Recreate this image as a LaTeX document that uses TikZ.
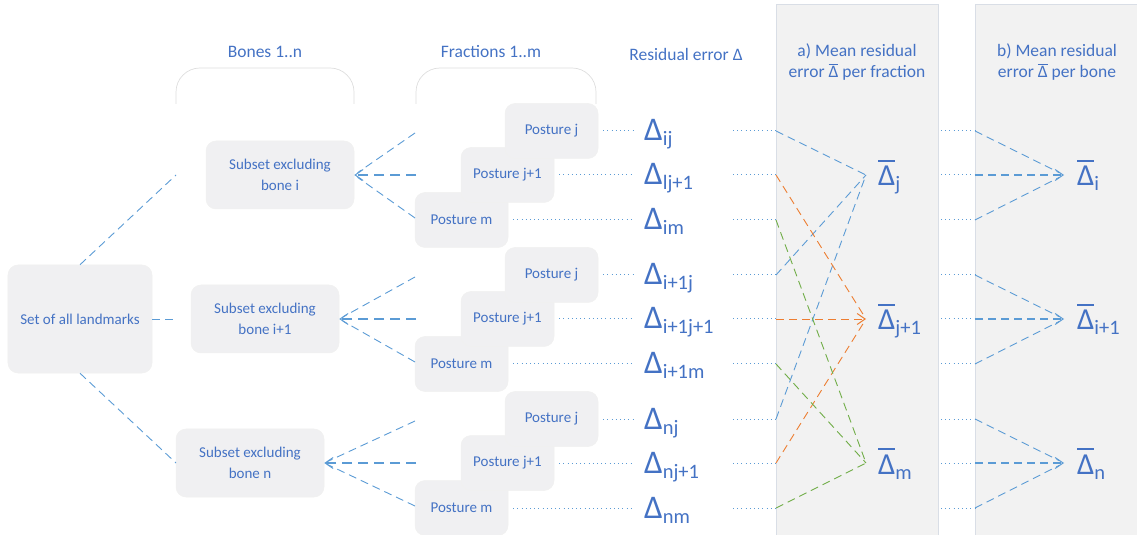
\documentclass[tikz,border=0pt]{standalone}
\usepackage{fontspec}
\setmainfont{Carlito}
\usetikzlibrary{arrows.meta}

\definecolor{txtblue}{HTML}{4472C4}
\definecolor{lnblue}{HTML}{5B9BD5}
\definecolor{lnorange}{HTML}{ED7D31}
\definecolor{lngreen}{HTML}{70AD47}
\definecolor{boxgray}{HTML}{F0F0F2}
\definecolor{panelgray}{HTML}{F2F2F2}
\definecolor{paneledge}{HTML}{D9DEE6}
\definecolor{bracegray}{HTML}{DEDEDE}

% a symbol with a bar drawn over it: #1 content, #2 gap, #3 bar thickness
\newcommand\barred[3]{\setbox0\hbox{#1}\hbox{\rlap{\raisebox{\dimexpr\ht0+#2\relax}{\rule{\wd0}{#3}}}\box0}}
% residual error with subscript
\newcommand\dlab[1]{{\fontsize{33bp}{33bp}\selectfont Δ}\raisebox{-5bp}{\fontsize{20.5bp}{20.5bp}\selectfont #1}}
% mean residual error with subscript
\newcommand\mlab[1]{\barred{\fontsize{30.5bp}{30.5bp}\selectfont Δ}{4bp}{2bp}\raisebox{-5bp}{\fontsize{20.5bp}{20.5bp}\selectfont #1}}
% small barred delta for running text
\newcommand\sbar{\barred{Δ}{1.5bp}{0.9bp}}

\tikzset{
  box/.style={rounded corners=10bp, fill=boxgray, draw=black!6, line width=0.5bp,
    text=txtblue, font=\fontsize{15bp}{21bp}\selectfont, align=center, inner sep=0pt},
  posture/.style={box, minimum width=93bp, minimum height=55bp},
  subset/.style={box, minimum width=148bp, minimum height=68bp},
  hdr/.style={text=txtblue, font=\fontsize{17.5bp}{21bp}\selectfont, align=center, inner sep=0pt},
  dl/.style={text=txtblue, anchor=base west, inner sep=0pt},
  link/.style={line width=0.9bp, dash pattern=on 8bp off 5bp},
  trunk/.style={line width=1.2bp, dash pattern=on 10bp off 6bp},
  dots/.style={lnblue, line width=1bp, dash pattern=on 1bp off 3.2bp},
  barb/.style={-{Straight Barb[length=8bp,width=11bp,line width=1bp]}},
  brace/.style={bracegray, line width=0.7bp, rounded corners=24bp}
}

\begin{document}
\begin{tikzpicture}[x=1bp,y=-1bp]
\useasboundingbox (0,0) rectangle (1137,535);

% background panels
\path[fill=panelgray, draw=paneledge, line width=0.8bp] (776,536) -- (776,4) -- (938,4) -- (938,536);
\path[fill=panelgray, draw=paneledge, line width=0.8bp] (975,536) -- (975,4) -- (1138,4) -- (1138,536);

% headers
\node[hdr] (hbones) at (265,52) {Bones 1..n};
\node[hdr] (hfrac) at (491,52) {Fractions 1..m};
\node[hdr] (hres) at (686,54) {Residual error Δ};
\node[hdr] (hmeanf) at (857,62) {a) Mean residual\\error \sbar{} per fraction};
\node[hdr] (hmeanb) at (1057,62) {b) Mean residual\\error \sbar{} per bone};

% group brackets
\draw[brace] (176,104) -- (176,68) -- (354,68) -- (354,104);
\draw[brace] (416,104) -- (416,68) -- (596,68) -- (596,104);

% landmark set and subsets
\node[box, minimum width=144bp, minimum height=108bp] (all) at (80,319) {Set of all landmarks};
\node[subset] (s1) at (280,175) {Subset excluding\\bone i};
\node[subset] (s2) at (265,319) {Subset excluding\\bone i+1};
\node[subset] (s3) at (250,463) {Subset excluding\\bone n};

\coordinate (c1) at (176,175);
\coordinate (c2) at (176,319);
\coordinate (c3) at (176,463);
\draw[lnblue, link] (all.north) -- (c1);
\draw[lnblue, link] (all.east) -- (c2);
\draw[lnblue, link] (all.south) -- (c3);

% postures, connectors and residual errors per bone
\foreach \g/\r/\sa/\sb/\sc in {1/175/ij/lj+1/im, 2/319/i+1j/i+1j+1/i+1m, 3/463/nj/nj+1/nm} {
  \node[posture] (pm\g) at (461.5,\r+45) {Posture m};
  \node[posture] (pk\g) at (507.5,\r) {Posture j+1};
  \node[posture] (pj\g) at (551.5,\r-44) {Posture j};

  \coordinate (ia\g) at (415,\r-42);
  \coordinate (ib\g) at (416,\r);
  \coordinate (ic\g) at (415,\r+43);
  \coordinate (sx\g) at (s\g.east);
  \draw[lnblue, link, shorten >=4bp] (ia\g) -- (sx\g);
  \draw[lnblue, link, shorten >=4bp] (ic\g) -- (sx\g);
  \draw[lnblue, trunk, barb] (ib\g) -- (sx\g);

  \coordinate (oa\g) at (633,\r-44);
  \coordinate (ob\g) at (633,\r);
  \coordinate (oc\g) at (633,\r+45);
  \draw[dots] ([xshift=5bp]pj\g.east) -- (oa\g);
  \draw[dots] ([xshift=5bp]pk\g.east) -- (ob\g);
  \draw[dots] ([xshift=5bp]pm\g.east) -- (oc\g);

  \node[dl] (da\g) at (644,\r-44+10) {\dlab{\sa}};
  \node[dl] (db\g) at (644,\r+10) {\dlab{\sb}};
  \node[dl] (dc\g) at (644,\r+45+10) {\dlab{\sc}};

  \coordinate (ea\g) at (733,\r-44);
  \coordinate (eb\g) at (733,\r);
  \coordinate (ec\g) at (733,\r+45);
  \coordinate (fa\g) at (776,\r-44);
  \coordinate (fb\g) at (776,\r);
  \coordinate (fc\g) at (776,\r+45);
  \draw[dots] (ea\g) -- (fa\g);
  \draw[dots] (eb\g) -- (fb\g);
  \draw[dots] (ec\g) -- (fc\g);

  \coordinate (ga\g) at (941,\r-44);
  \coordinate (gb\g) at (941,\r);
  \coordinate (gc\g) at (941,\r+45);
  \coordinate (ha\g) at (975,\r-44);
  \coordinate (hb\g) at (975,\r);
  \coordinate (hc\g) at (975,\r+45);
  \draw[dots] (ga\g) -- (ha\g);
  \draw[dots] (gb\g) -- (hb\g);
  \draw[dots] (gc\g) -- (hc\g);

  % mean per bone
  \coordinate (tb\g) at (1064,\r);
  \draw[lnblue, link, shorten >=5bp] (ha\g) -- (tb\g);
  \draw[lnblue, link, shorten >=5bp] (hc\g) -- (tb\g);
  \draw[lnblue, link, line width=1.1bp, barb] (hb\g) -- (tb\g);
}

% means per fraction
\coordinate (tj) at (866,175);
\coordinate (tk) at (866,319);
\coordinate (tm) at (866,463);
\draw[lnblue, link] (fa1) -- (tj);
\draw[lnblue, link] (fa2) -- (tj);
\draw[lnblue, link] (fa3) -- (tj);
\draw[lnorange, link, shorten >=3bp] (fb1) -- (tk);
\draw[lnorange, link, barb] (fb2) -- (tk);
\draw[lnorange, link, shorten >=3bp] (fb3) -- (tk);
\draw[lngreen, link] (fc1) -- (tm);
\draw[lngreen, link] (fc2) -- (tm);
\draw[lngreen, link] (fc3) -- (tm);

\node[dl] (mj) at (878,186) {\mlab{j}};
\node[dl] (mk) at (878,330) {\mlab{j+1}};
\node[dl] (mm) at (878,474) {\mlab{m}};
\node[dl] (mi) at (1077,186) {\mlab{i}};
\node[dl] (mi1) at (1077,330) {\mlab{i+1}};
\node[dl] (mn) at (1077,474) {\mlab{n}};
\end{tikzpicture}
\end{document}
